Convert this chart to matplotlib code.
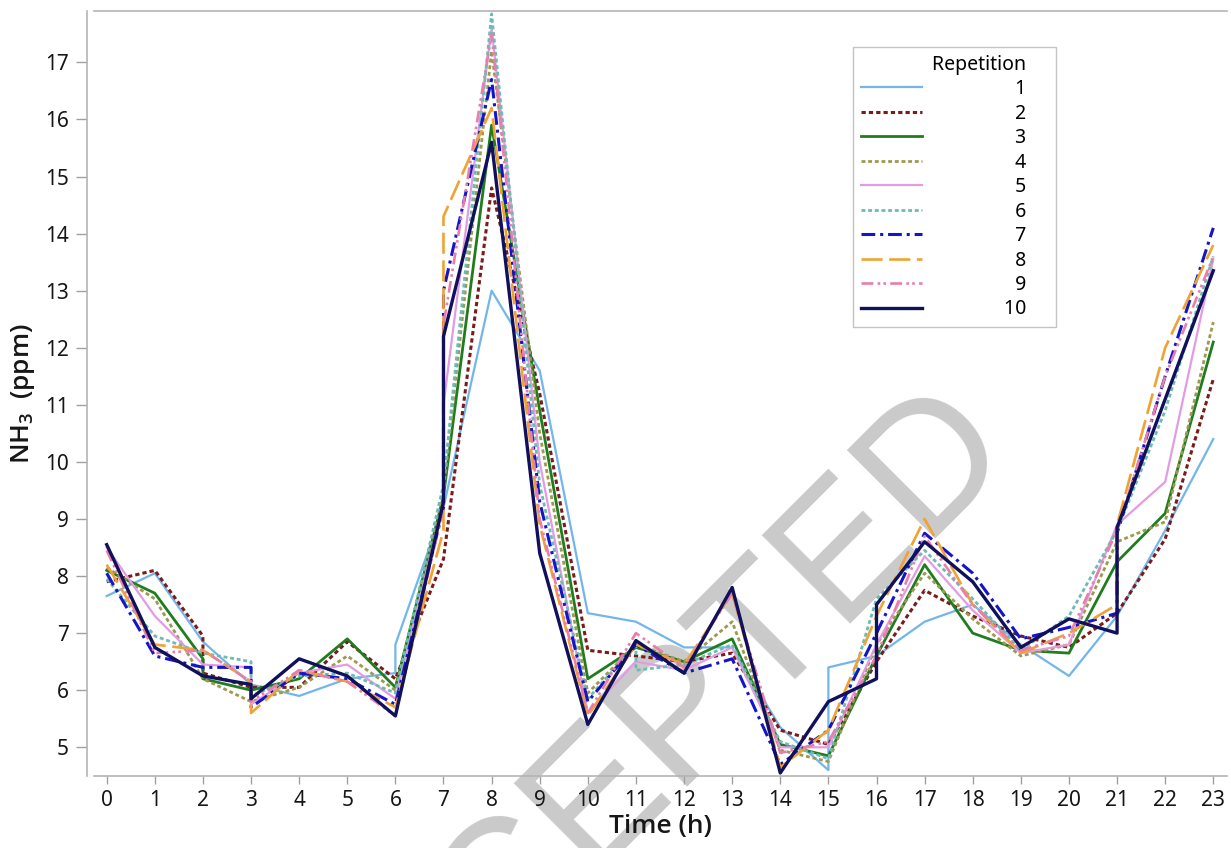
import numpy as np
import matplotlib
matplotlib.use("Agg")
from matplotlib import pyplot as plt

plt.rcParams['font.family'] = ['Noto Sans', 'DejaVu Sans']
plt.rcParams['mathtext.default'] = 'regular'

hours = list(range(24))

# hourly NH3 (ppm) per repetition, jumps = second reading at the same hour
rep1 = [7.65, 8.05, 6.85, 6.1, 5.9, 6.2, 6.3, 9.2, 13.0, 11.6, 7.35, 7.2,
        6.75, 6.75, 5.35, 4.6, 6.6, 7.2, 7.5, 6.8, 6.25, 7.3, 8.8, 10.4]
rep2 = [7.9, 8.1, 6.95, 6.05, 6.05, 6.85, 6.2, 8.3, 14.8, 11.2, 6.7, 6.6,
        6.5, 6.65, 5.3, 5.05, 6.5, 7.75, 7.3, 6.95, 6.75, 7.35, 8.65, 11.45]
rep3 = [8.1, 7.7, 6.55, 6.0, 6.2, 6.9, 6.05, 9.4, 15.9, 10.9, 6.2, 6.75,
        6.5, 6.9, 5.05, 4.85, 6.6, 8.2, 7.0, 6.7, 6.65, 8.25, 9.1, 12.1]
rep4 = [8.15, 7.6, 6.2, 5.8, 6.05, 6.6, 6.0, 9.5, 17.2, 10.5, 5.95, 6.8,
        6.5, 7.2, 4.95, 4.75, 6.8, 8.05, 7.25, 6.6, 6.8, 8.6, 8.95, 12.45]
rep5 = [8.5, 7.3, 6.45, 6.4, 6.3, 6.45, 5.85, 9.3, 17.6, 10.0, 5.6, 6.5,
        6.35, 6.75, 5.0, 5.0, 6.8, 8.35, 7.4, 6.65, 6.8, 8.9, 9.65, 13.55]
rep6 = [7.95, 6.95, 6.65, 6.5, 6.25, 6.3, 5.95, 9.6, 17.85, 9.6, 5.85, 6.8,
        6.45, 6.8, 5.1, 4.8, 7.6, 8.45, 7.6, 6.7, 7.3, 8.8, 10.9, 13.6]
rep7 = [8.05, 6.6, 6.4, 6.4, 6.3, 6.2, 5.75, 9.2, 16.7, 9.3, 5.8, 6.8,
        6.3, 6.55, 4.7, 5.3, 7.0, 8.75, 8.05, 6.9, 7.1, 7.35, 11.5, 14.1]
rep8 = [8.2, 6.8, 6.7, 6.15, 6.35, 6.15, 5.7, 8.8, 16.2, 8.9, 5.55, 6.8,
        6.45, 7.7, 4.65, 5.3, 7.3, 9.0, 7.5, 6.65, 7.0, 7.5, 12.0, 13.8]
rep9 = [8.45, 6.65, 6.7, 6.15, 6.35, 6.15, 5.55, 9.2, 17.5, 9.0, 5.6, 7.0,
        6.4, 7.7, 4.9, 5.1, 6.6, 8.7, 7.5, 6.7, 6.95, 8.8, 11.5, 13.6]
rep10 = [8.55, 6.75, 6.25, 6.1, 6.55, 6.25, 5.55, 9.3, 15.6, 8.4, 5.4, 6.87,
         6.3, 7.8, 4.55, 5.8, 6.2, 8.6, 7.9, 6.75, 7.25, 7.0, 11.1, 13.35]

jumps1 = {6: 6.8, 15: 6.4}
jumps2 = {2: 6.3}
jumps3 = {2: 6.2}
jumps4 = {}
jumps5 = {3: 5.75, 7: 11.0}
jumps6 = {3: 5.9, 11: 6.35}
jumps7 = {3: 5.7, 7: 13.0, 21: 8.75}
jumps8 = {3: 5.6, 7: 14.3, 21: 8.9}
jumps9 = {3: 5.8, 7: 12.4}
jumps10 = {3: 5.85, 7: 12.2, 16: 7.5, 21: 8.85}

series = [rep1, rep2, rep3, rep4, rep5, rep6, rep7, rep8, rep9, rep10]
jumps = [jumps1, jumps2, jumps3, jumps4, jumps5, jumps6, jumps7, jumps8,
         jumps9, jumps10]
labels = [str(i) for i in range(1, 11)]

colors = ['#72b6ea', '#7a1c1c', '#1f7d1f', '#9c9a50', '#e39be4',
          '#6dbcb4', '#1414c8', '#f0a232', '#e97eaa', '#10105c']
widths = [1.6, 2.2, 2.0, 2.0, 1.6, 2.0, 2.2, 1.9, 1.9, 2.4]
dashes = [None, (1.4, 1.0), None, (1.4, 1.0), None, (1.4, 1.0),
          (4.5, 1.6, 1.0, 1.6), (8, 2.5), (4.5, 1.6, 1, 1.2, 1, 1.6), None]


def expand(vals, jmp):
    xs, ys = [], []
    for h, v in zip(hours, vals):
        xs.append(h)
        ys.append(v)
        if h in jmp:
            xs.append(h)
            ys.append(jmp[h])
    return xs, ys


fig = plt.figure(figsize=(12.31, 8.48), dpi=100)
ax = fig.add_axes([94/1231, 1-776/848, (1227-94)/1231, (776-11)/848])

handles = []
for vals, jmp, c, w, d, lab in zip(series, jumps, colors, widths, dashes, labels):
    xs, ys = expand(vals, jmp)
    ln, = ax.plot(xs, ys, color=c, lw=w, label=lab, zorder=3)
    if d is not None:
        ln.set_dashes(d)
    handles.append(ln)

ax.set_xlim(-0.264, 23.285)
ax.set_ylim(4.497, 17.9)
ax.set_xticks(hours)
ax.set_yticks(range(5, 18))

ax.spines['right'].set_visible(False)
for s in ['left', 'top', 'bottom']:
    ax.spines[s].set_color('#b4b4b4')
    ax.spines[s].set_linewidth(1.2)
ax.spines['left'].set_position(('outward', 5))
ax.tick_params(axis='both', colors='#a0a0a0', labelcolor='#161616',
               labelsize=15, width=1)
ax.tick_params(axis='y', length=8, pad=5)
ax.tick_params(axis='x', length=6, pad=4)

lab_font = ['Open Sans', 'DejaVu Sans']
ax.set_xlabel('Time (h)', fontsize=19, fontweight='semibold', labelpad=2,
              color='#161616', family=lab_font)
ax.set_ylabel('NH$_3$  (ppm)', fontsize=19, fontweight='semibold',
              labelpad=6, color='#161616', family=lab_font)

# watermark
ax.text(671/1231, 1-803/848, 'ACCEPTED', transform=fig.transFigure,
        fontsize=130, color='#cacaca', rotation=45, ha='center',
        va='baseline', rotation_mode='anchor', family='Liberation Sans',
        zorder=1, clip_on=False)

fig_sp = '\u2007'
leg_labels = [(l + fig_sp * 2) if len(l) == 2 else (fig_sp + l + fig_sp * 2)
              for l in labels]
leg = ax.legend(handles, leg_labels, title='Repetition' + fig_sp * 2,
                loc='upper right',
                bbox_to_anchor=((1056-94)/1133, (776-47)/765),
                fontsize=14, title_fontsize=14, handlelength=3.15,
                handletextpad=4.2, labelspacing=0.23, borderpad=0.4,
                frameon=True, fancybox=False, alignment='right',
                borderaxespad=0)
leg.get_frame().set_edgecolor('#b4b4b4')
leg.get_frame().set_linewidth(1.0)
leg.set_zorder(5)

fig.savefig('out.png', dpi=100)
